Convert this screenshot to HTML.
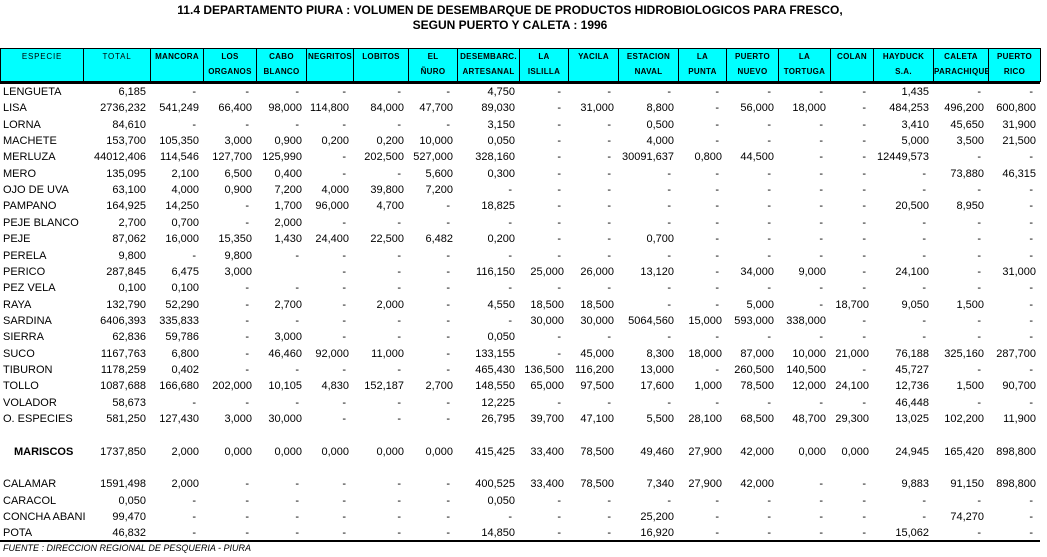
<!DOCTYPE html>
<html><head><meta charset="utf-8">
<style>
body{margin:0;width:1047px;height:557px;background:#fff;position:relative;overflow:hidden;font-family:"Liberation Sans",sans-serif;}
.t{position:absolute;left:0;width:1020px;text-align:center;font-weight:bold;font-size:12px;}
.h{position:absolute;top:48px;height:34px;background:#00ffff;border:1px solid #000;box-sizing:border-box;font-size:8px;font-weight:bold;text-align:center;line-height:15px;letter-spacing:0.3px;}
.c{position:absolute;font-size:11px;white-space:nowrap;height:16px;line-height:16px;}
</style></head><body>
<div class="t" style="top:3px">11.4 DEPARTAMENTO PIURA : VOLUMEN DE DESEMBARQUE DE PRODUCTOS HIDROBIOLOGICOS PARA FRESCO,</div>
<div class="t" style="top:18px">SEGUN PUERTO Y CALETA : 1996</div>
<div style="position:absolute;left:0;top:81px;width:1040px;height:3px;background:#000"></div>
<div style="position:absolute;left:0;top:540px;width:1040px;height:2px;background:#000"></div>
<div style="position:absolute;left:3px;top:543px;font-size:9px;font-style:italic">FUENTE : DIRECCION REGIONAL DE PESQUERIA - PIURA</div>
<script>
const headers=[["ESPECIE",""],["TOTAL",""],["MANCORA",""],["LOS","ORGANOS"],["CABO","BLANCO"],["NEGRITOS",""],["LOBITOS",""],["EL","ÑURO"],["DESEMBARC.","ARTESANAL"],["LA","ISLILLA"],["YACILA",""],["ESTACION","NAVAL"],["LA","PUNTA"],["PUERTO","NUEVO"],["LA","TORTUGA"],["COLAN",""],["HAYDUCK","S.A."],["CALETA","PARACHIQUE"],["PUERTO","RICO"]];
const edges=[0,83,150,203,256,306,353,408,457,519,568,618,678,726,778,830,873,933,988,1040];
const D="-";
const rows=[
["LENGUETA","6,185",D,D,D,D,D,D,"4,750",D,D,D,D,D,D,D,"1,435",D,D],
["LISA","2736,232","541,249","66,400","98,000","114,800","84,000","47,700","89,030",D,"31,000","8,800",D,"56,000","18,000",D,"484,253","496,200","600,800"],
["LORNA","84,610",D,D,D,D,D,D,"3,150",D,D,"0,500",D,D,D,D,"3,410","45,650","31,900"],
["MACHETE","153,700","105,350","3,000","0,900","0,200","0,200","10,000","0,050",D,D,"4,000",D,D,D,D,"5,000","3,500","21,500"],
["MERLUZA","44012,406","114,546","127,700","125,990",D,"202,500","527,000","328,160",D,D,"30091,637","0,800","44,500",D,D,"12449,573",D,D],
["MERO","135,095","2,100","6,500","0,400",D,D,"5,600","0,300",D,D,D,D,D,D,D,D,"73,880","46,315"],
["OJO DE UVA","63,100","4,000","0,900","7,200","4,000","39,800","7,200",D,D,D,D,D,D,D,D,D,D,D],
["PAMPANO","164,925","14,250",D,"1,700","96,000","4,700",D,"18,825",D,D,D,D,D,D,D,"20,500","8,950",D],
["PEJE BLANCO","2,700","0,700",D,"2,000",D,D,D,D,D,D,D,D,D,D,D,D,D,D],
["PEJE","87,062","16,000","15,350","1,430","24,400","22,500","6,482","0,200",D,D,"0,700",D,D,D,D,D,D,D],
["PERELA","9,800",D,"9,800",D,D,D,D,D,D,D,D,D,D,D,D,D,D,D],
["PERICO","287,845","6,475","3,000","",D,D,D,"116,150","25,000","26,000","13,120",D,"34,000","9,000",D,"24,100",D,"31,000"],
["PEZ VELA","0,100","0,100",D,D,D,D,D,D,D,D,D,D,D,D,D,D,D,D],
["RAYA","132,790","52,290",D,"2,700",D,"2,000",D,"4,550","18,500","18,500",D,D,"5,000",D,"18,700","9,050","1,500",D],
["SARDINA","6406,393","335,833",D,D,D,D,D,D,"30,000","30,000","5064,560","15,000","593,000","338,000",D,D,D,D],
["SIERRA","62,836","59,786",D,"3,000",D,D,D,"0,050",D,D,D,D,D,D,D,D,D,D],
["SUCO","1167,763","6,800",D,"46,460","92,000","11,000",D,"133,155",D,"45,000","8,300","18,000","87,000","10,000","21,000","76,188","325,160","287,700"],
["TIBURON","1178,259","0,402",D,D,D,D,D,"465,430","136,500","116,200","13,000",D,"260,500","140,500",D,"45,727",D,D],
["TOLLO","1087,688","166,680","202,000","10,105","4,830","152,187","2,700","148,550","65,000","97,500","17,600","1,000","78,500","12,000","24,100","12,736","1,500","90,700"],
["VOLADOR","58,673",D,D,D,D,D,D,"12,225",D,D,D,D,D,D,D,"46,448",D,D],
["O. ESPECIES","581,250","127,430","3,000","30,000",D,D,D,"26,795","39,700","47,100","5,500","28,100","68,500","48,700","29,300","13,025","102,200","11,900"],
null,
["MARISCOS","1737,850","2,000","0,000","0,000","0,000","0,000","0,000","415,425","33,400","78,500","49,460","27,900","42,000","0,000","0,000","24,945","165,420","898,800"],
null,
["CALAMAR","1591,498","2,000",D,D,D,D,D,"400,525","33,400","78,500","7,340","27,900","42,000",D,D,"9,883","91,150","898,800"],
["CARACOL","0,050",D,D,D,D,D,D,"0,050",D,D,D,D,D,D,D,D,D,D],
["CONCHA ABANI","99,470",D,D,D,D,D,D,D,D,D,"25,200",D,D,D,D,D,"74,270",D],
["POTA","46,832",D,D,D,D,D,D,"14,850",D,D,"16,920",D,D,D,D,"15,062",D,D]
];
headers.forEach((h,i)=>{
 const el=document.createElement('div');
 
 
 el.className='h';
 el.style.left=edges[i]+'px';
 el.style.width=(edges[i+1]-edges[i]+1)+'px';
 if(i<2){el.style.fontWeight='normal';el.style.letterSpacing='0.8px';}
 el.innerHTML=h[0]+'<br>'+h[1];
 document.body.appendChild(el);
});
rows.forEach((r,ri)=>{
 if(!r)return;
 const top=84+ri*16.35;
 const bold=r[0]==='MARISCOS';
 r.forEach((v,ci)=>{
  if(v==='')return;
  const el=document.createElement('div');
  
  
  el.className='c';
  el.style.top=top+'px';
  if(ci===0){
   el.style.left=(bold?14:3)+'px';
   if(bold){el.style.fontWeight='bold';}
  }else{
   const pad=(v===D)?7:4;
   el.style.left=edges[ci]+'px';
   el.style.width=(edges[ci+1]-edges[ci]-pad)+'px';
   el.style.textAlign='right';
  }
  el.textContent=v;
  document.body.appendChild(el);
 });
});
</script>
</body></html>
